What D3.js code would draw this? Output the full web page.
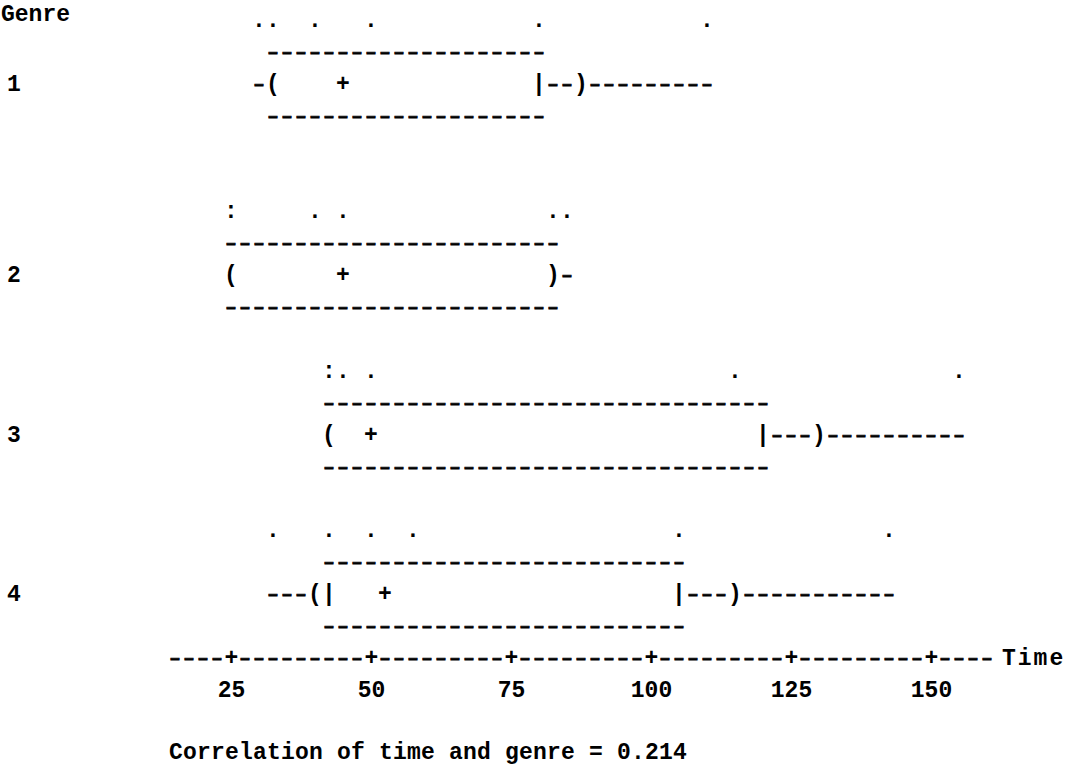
<!DOCTYPE html>
<html>
<head>
<meta charset="utf-8">
<script src="https://d3js.org/d3.v7.min.js"></script>
<style>
  body { margin: 0; background: #fff; }
  text {
    font-family: "Liberation Mono", "DejaVu Sans Mono", monospace;
    font-weight: bold;
    font-size: 23px;
    fill: #000;
  }
  text.dash { font-size: 19px; stroke: #000; stroke-width: 0.8px; }
  .domain { display: none; }
</style>
</head>
<body>
<script>
// character box plots of time by genre
var genres = ["1", "2", "3", "4"];
var dotTimes = [
  [30, 32.5, 40, 50, 80, 110],
  [25, 25, 40, 45, 82.5, 85],
  [42.5, 42.5, 45, 50, 115, 155],
  [32.5, 42.5, 50, 57.5, 105, 142.5]
];
var whiskerLow  = [30, 25, 42.5, 32.5];
var hingeLow    = [32.5, 25, 42.5, 42.5];
var notchLow    = [32.5, 25, 42.5, 40];
var medians     = [45, 45, 50, 52.5];
var notchHigh   = [87.5, 82.5, 130, 115];
var hingeHigh   = [80, 82.5, 120, 105];
var whiskerHigh = [110, 85, 155, 142.5];
var tickValues  = [25, 50, 75, 100, 125, 150];
var axisExtent  = [15, 160];
var correlation = 0.214;
var step = 2.5;   // one character column in time units

var width = 1068, height = 766;
var svg = d3.select("body").append("svg")
  .attr("width", width)
  .attr("height", height);

var x = d3.scaleLinear().domain([25, 150]).range([231, 931]);
// text lines of the printout
var line = d3.scaleLinear().domain([0, 20]).range([27, 665]);
var firstLine = [0, 6, 11, 16];

function columns(lo, hi) {
  return d3.range(Math.round(lo / step), Math.round(hi / step) + 1).map(k => k * step);
}

function glyph(i, t) {
  if (t === medians[i]) return "+";
  if (t === notchLow[i]) return "(";
  if (t === notchHigh[i]) return ")";
  if (t === hingeLow[i] || t === hingeHigh[i]) return "|";
  if (t > hingeLow[i] && t < hingeHigh[i]) return null;
  return "-";
}

function putRow(g, y, items) {
  g.append("g").selectAll("text")
    .data(items.filter(d => d.c))
    .enter().append("text")
    .attr("class", d => d.c == "-" ? "dash" : "mark")
    .attr("x", d => x(d.t))
    .attr("y", d => d.c == "-" ? y - 1 : y)
    .style("text-anchor", "middle")
    .text(d => d.c == "-" ? "\u2013" : d.c);
}

svg.append("text")
  .attr("x", 1)
  .attr("y", 21)
  .text("Genre");

genres.forEach(function(name, i) {
  var g = svg.append("g").attr("class", "genre");
  var l0 = firstLine[i];

  // dot plot of the observations
  var counts = d3.rollups(dotTimes[i], v => v.length, d => d);
  putRow(g, line(l0), counts.map(d => ({t: d[0], c: d[1] > 1 ? ":" : "."})));

  // box top and bottom
  var box = columns(hingeLow[i], hingeHigh[i]).map(t => ({t: t, c: "-"}));
  putRow(g, line(l0 + 1), box);
  putRow(g, line(l0 + 3), box);

  // whiskers, hinges, notch and median
  putRow(g, line(l0 + 2), columns(whiskerLow[i], whiskerHigh[i]).map(t => ({t: t, c: glyph(i, t)})));

  g.append("text")
    .attr("x", 7)
    .attr("y", line(l0 + 2))
    .text(name);
});

// axis line made of characters
var axisG = svg.append("g").attr("class", "axisLine");
putRow(axisG, line(20), columns(axisExtent[0], axisExtent[1])
  .filter(t => tickValues.indexOf(t) < 0)
  .map(t => ({t: t, c: "-"})));

svg.append("g")
  .attr("class", "axis plusTicks")
  .attr("transform", `translate(0, ${line(20)})`)
  .call(d3.axisBottom(x).tickValues(tickValues).tickSize(0).tickFormat(() => "+"))
  .selectAll("text")
  .attr("y", 0)
  .attr("dy", null);

svg.append("g")
  .attr("class", "axis xAxis")
  .attr("transform", `translate(0, ${line(21)})`)
  .call(d3.axisBottom(x).tickValues(tickValues).tickSize(0).tickFormat(d3.format("d")))
  .selectAll("text")
  .attr("y", 0)
  .attr("dy", null);

svg.append("text")
  .attr("x", 1002)
  .attr("y", line(20))
  .style("letter-spacing", "2px")
  .text("Time");

svg.append("text")
  .attr("x", 169)
  .attr("y", line(23) - 2)
  .style("letter-spacing", "0.2px")
  .text("Correlation of time and genre = " + d3.format(".3f")(correlation));
</script>
</body>
</html>
